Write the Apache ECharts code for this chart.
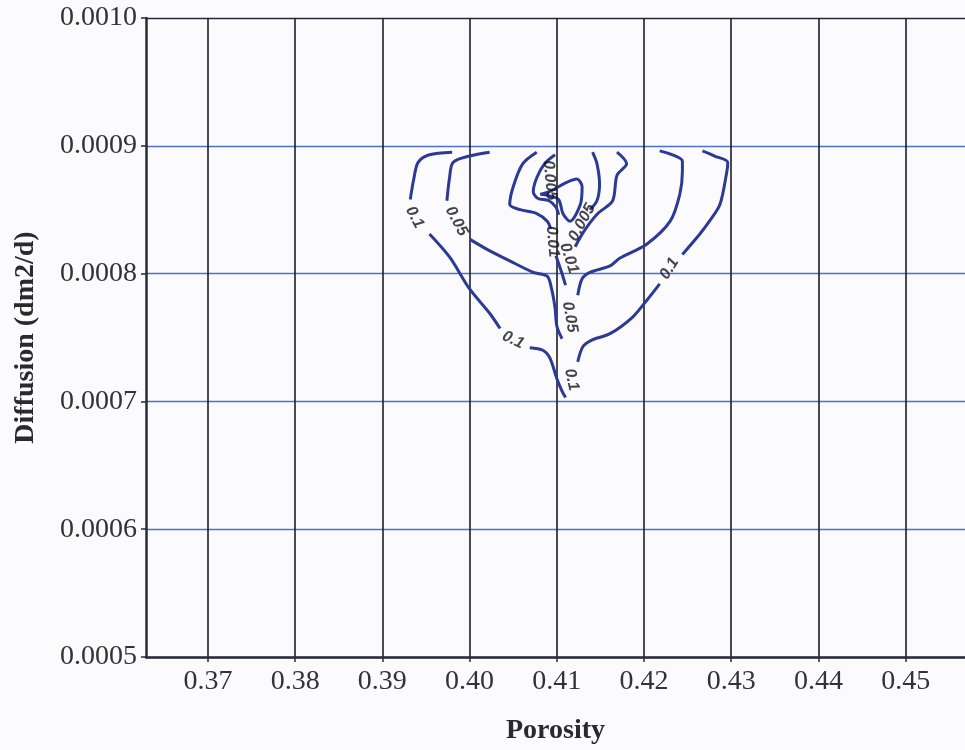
<!DOCTYPE html>
<html>
<head>
<meta charset="utf-8">
<script src="https://cdn.jsdelivr.net/npm/echarts@6/dist/echarts.min.js"></script>
<style>
html,body{margin:0;padding:0;background:#fbfbfd;}
#chart{width:965px;height:750px;}
</style>
</head>
<body>
<div id="chart"></div>
<script>
// ===== axis ticks =====
const xTicks = [0.37, 0.38, 0.39, 0.40, 0.41, 0.42, 0.43, 0.44, 0.45];
const yTicks = [0.0005, 0.0006, 0.0007, 0.0008, 0.0009, 0.0010];

// ===== contour polylines (porosity, diffusion) =====
// level 0.1
const c01_a = [[0.3980,0.000895],[0.3954,0.000893],[0.3941,0.000887],[0.3936,0.000874],[0.3932,0.000858]];
const c01_b = [[0.3954,0.000831],[0.3977,0.000813],[0.4000,0.000788],[0.4023,0.000769],[0.4035,0.000757]];
const c01_c = [[0.4069,0.000742],[0.4084,0.000740],[0.4092,0.000734],[0.4100,0.000718],[0.4106,0.000708],[0.4110,0.000703]];
const c01_d = [[0.4124,0.000731],[0.4130,0.000743],[0.4140,0.000748],[0.4161,0.000753],[0.4187,0.000766],[0.4203,0.000779],[0.4218,0.000792]];
const c01_e = [[0.4244,0.000815],[0.4264,0.000831],[0.4275,0.000841],[0.4287,0.000854],[0.4295,0.000880],[0.4296,0.000887],[0.4281,0.000892],[0.4267,0.000896]];
// level 0.05
const c005_a = [[0.4023,0.000895],[0.4000,0.000892],[0.3981,0.000887],[0.3977,0.000875],[0.3974,0.000857]];
const c005_b = [[0.4000,0.000827],[0.4020,0.000819],[0.4046,0.000810],[0.4073,0.000801],[0.4089,0.000798],[0.4094,0.000788],[0.4098,0.000773],[0.4100,0.000759],[0.4106,0.000749]];
const c005_c = [[0.4124,0.000783],[0.4129,0.000796],[0.4138,0.000801],[0.4161,0.000806],[0.4172,0.000812],[0.4203,0.000823],[0.4230,0.000841],[0.4241,0.000862],[0.4244,0.000880],[0.4244,0.000888],[0.4218,0.000896]];
// level 0.01
const c0010_a = [[0.4077,0.000895],[0.4061,0.000886],[0.4050,0.000868],[0.4046,0.000854],[0.4058,0.000850],[0.4077,0.000847],[0.4089,0.000841],[0.4093,0.000835]];
const c0010_b = [[0.4099,0.000814],[0.4105,0.000802],[0.4110,0.000791]];
const c0010_c = [[0.4121,0.000821],[0.4132,0.000834],[0.4147,0.000847],[0.4164,0.000857],[0.4169,0.000877],[0.4180,0.000886],[0.4169,0.000895]];
// level 0.005
const c0005_a = [[0.4098,0.000893],[0.4086,0.000886],[0.4077,0.000875],[0.4073,0.000864],[0.4078,0.000859],[0.4091,0.000857],[0.4099,0.000852],[0.4102,0.000846]];
const c0005_b = [[0.4141,0.000895],[0.4146,0.000886],[0.4149,0.000870],[0.4146,0.000857],[0.4138,0.000850]];
// innermost loop
const cInner = [[0.4081,0.000862],[0.4094,0.000865],[0.4110,0.000871],[0.4123,0.000874],[0.4129,0.000868],[0.4127,0.000854],[0.4115,0.000841],[0.4107,0.000847],[0.4102,0.000858],[0.4090,0.000861],[0.4081,0.000862]];

// contour labels: [porosity, diffusion, text]
const contourLabels = [
    [0.3937,0.000844,'0.1'],
    [0.4050,0.000748,'0.1'],
    [0.4117,0.000717,'0.1'],
    [0.4229,0.000804,'0.1'],
    [0.3985,0.000841,'0.05'],
    [0.4115,0.000766,'0.05'],
    [0.4095,0.000825,'0.01'],
    [0.4114,0.000812,'0.01'],
    [0.4092,0.000873,'0.005'],
    [0.4129,0.000840,'0.005']
];
const labelAngles = [-62, -25, -78, 58, -62, -80, -85, -72, -85, 62];

const segments = [c01_a,c01_b,c01_c,c01_d,c01_e,c005_a,c005_b,c005_c,c0010_a,c0010_b,c0010_c,c0005_a,c0005_b,cInner];

const chart = echarts.init(document.getElementById('chart'));
const lineColor = '#2c3a96';
const serif = 'Liberation Serif';

const series = segments.map(seg => ({
    type:'line', data:seg, showSymbol:false, smooth:0.3, silent:true,
    lineStyle:{color:lineColor,width:3}, z:3
}));
series.push({
    type:'scatter', symbolSize:0, silent:true, z:4,
    data: contourLabels.map((p,i)=>({
        value:[p[0],p[1]], name:p[2],
        label:{rotate:labelAngles[i]}
    })),
    label:{show:true, position:'inside', formatter:p=>p.name,
        color:'#15151c', fontFamily:'Liberation Sans', fontWeight:'bold', fontStyle:'italic', fontSize:16}
});

chart.setOption({
    backgroundColor:'#fbfbfd',
    animation:false,
    grid:{left:146, right:0, top:18, bottom:90},
    xAxis:{
        type:'value', min:0.3629, max:0.4568,
        name:'Porosity', nameLocation:'middle', nameGap:60,
        nameTextStyle:{fontFamily:serif, fontWeight:'bold', fontSize:28, color:'#2a2a2a'},
        axisLine:{lineStyle:{color:'#2a2a35',width:2.5}},
        axisTick:{show:true, customValues:xTicks, length:5, lineStyle:{color:'#2a2a35',width:1.5}},
        axisLabel:{customValues:xTicks, formatter:v=>v.toFixed(2), margin:11,
            fontFamily:serif, fontSize:28, color:'#333'},
        splitLine:{show:true, lineStyle:{color:'#1e1e26',width:1.6}}
    },
    yAxis:{
        type:'value', min:0.0005, max:0.0010, interval:0.0001,
        name:'Diffusion (dm2/d)', nameLocation:'middle', nameGap:106,
        nameTextStyle:{fontFamily:serif, fontWeight:'bold', fontSize:28, color:'#2a2a2a'},
        axisLine:{show:true, lineStyle:{color:'#2a2a35',width:2.5}},
        axisTick:{show:true, length:5, lineStyle:{color:'#2a2a35',width:1.5}},
        axisLabel:{formatter:v=>v.toFixed(4), margin:9, fontFamily:serif, fontSize:28, color:'#333'},
        splitLine:{show:true, lineStyle:{color:['#4d6fd6','#4d6fd6','#4d6fd6','#4d6fd6','#4d6fd6','#23283a'],width:1.3}}
    },
    series:series
});
</script>
</body>
</html>
